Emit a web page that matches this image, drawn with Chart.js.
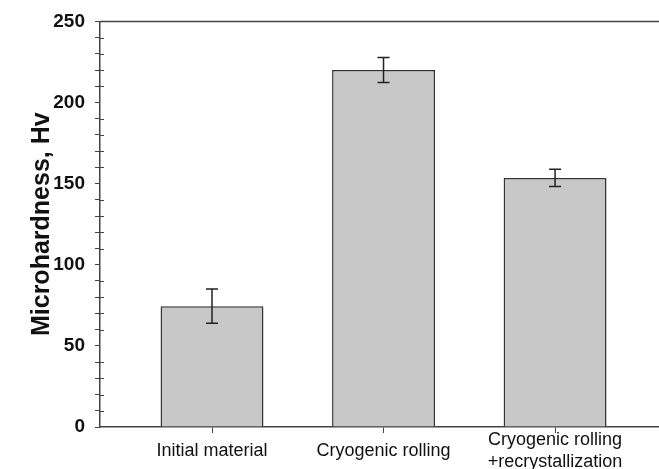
<!DOCTYPE html>
<html>
<head>
<meta charset="utf-8">
<script src="https://cdn.jsdelivr.net/npm/chart.js@4.4.0/dist/chart.umd.min.js"></script>
<style>
  html, body { margin: 0; padding: 0; background: #fff; }
  #wrap { width: 659px; height: 469px; }
</style>
</head>
<body>
<div id="wrap"><canvas id="hardnessChart"></canvas></div>
<script>
// values
const categories = ['Initial material', 'Cryogenic rolling', ['Cryogenic rolling', '+recrystallization']];
const positions = [0, 1, 2];
const hardness = [74.5, 220, 153.5];
const hardnessErr = [10.5, 7.7, 5.3];
const yMajorTicks = [0, 50, 100, 150, 200, 250];

// Error bars drawn through the chart's scales
const errorBars = {
  id: 'errorBars',
  afterDatasetsDraw(chart) {
    const ctx = chart.ctx;
    const x = chart.scales.x, y = chart.scales.y;
    ctx.save();
    ctx.strokeStyle = '#222';
    ctx.lineWidth = 1.5;
    hardness.forEach((v, i) => {
      const px = x.getPixelForValue(positions[i]);
      const top = y.getPixelForValue(v + hardnessErr[i]);
      const bot = y.getPixelForValue(v - hardnessErr[i]);
      ctx.beginPath();
      ctx.moveTo(px, top); ctx.lineTo(px, bot);
      ctx.moveTo(px - 6, top); ctx.lineTo(px + 6, top);
      ctx.moveTo(px - 6, bot); ctx.lineTo(px + 6, bot);
      ctx.stroke();
    });
    ctx.restore();
  }
};

// top frame line and inner half of the minor ticks
const frame = {
  id: 'frame',
  afterDraw(chart) {
    const ctx = chart.ctx;
    const a = chart.chartArea, y = chart.scales.y;
    ctx.save();
    ctx.strokeStyle = '#444';
    ctx.lineWidth = 1.5;
    ctx.beginPath();
    ctx.moveTo(a.left, a.top); ctx.lineTo(a.right, a.top);
    ctx.stroke();
    ctx.lineWidth = 1;
    y.ticks.forEach(t => {
      if (t.value % 50 === 0) return;
      const py = Math.round(y.getPixelForValue(t.value)) + 0.5;
      ctx.beginPath();
      ctx.moveTo(a.left, py); ctx.lineTo(a.left + 4, py);
      ctx.stroke();
    });
    ctx.restore();
  }
};

new Chart(document.getElementById('hardnessChart'), {
  type: 'bar',
  data: {
    datasets: [{
      data: positions.map((p, i) => ({ x: p, y: hardness[i] })),
      backgroundColor: '#c8c8c8',
      borderColor: '#333',
      borderWidth: 1.5,
      categoryPercentage: 1,
      barPercentage: 0.6
    }]
  },
  options: {
    responsive: true,
    maintainAspectRatio: false,
    animation: false,
    layout: { padding: { top: 11, right: 0, bottom: 0, left: 0 } },
    plugins: { legend: { display: false }, tooltip: { enabled: false } },
    scales: {
      x: {
        type: 'linear',
        offset: false,
        min: -0.653,
        max: 2.606,
        afterBuildTicks: s => { s.ticks = positions.map(v => ({ value: v })); },
        afterFit: s => { s.height = 42; },
        ticks: {
          autoSkip: false,
          maxRotation: 0,
          crossAlign: 'center',
          color: '#111',
          padding: 7,
          font: { family: 'Liberation Sans', size: 18 },
          callback: (v) => categories[v]
        },
        grid: { offset: false, drawOnChartArea: false, drawTicks: true, tickLength: 6, color: '#444', lineWidth: 1 },
        border: { display: true, color: '#444', width: 1.5 }
      },
      y: {
        min: 0,
        max: 250,
        afterFit: s => { s.width = 100; },
        ticks: {
          stepSize: 10,
          autoSkip: false,
          color: '#111',
          padding: 10,
          font: { family: 'Liberation Sans', size: 19, weight: 'bold' },
          callback: v => (yMajorTicks.includes(v) ? v : '')
        },
        grid: { drawOnChartArea: false, drawTicks: true, tickLength: 5, color: '#444', lineWidth: 1 },
        border: { display: true, color: '#444', width: 1.5 },
        title: {
          display: true,
          text: 'Microhardness, Hv',
          color: '#111',
          padding: { top: 27, bottom: 0 },
          font: { family: 'Liberation Sans', size: 25, weight: 'bold' }
        }
      }
    }
  },
  plugins: [errorBars, frame]
});
</script>
</body>
</html>
